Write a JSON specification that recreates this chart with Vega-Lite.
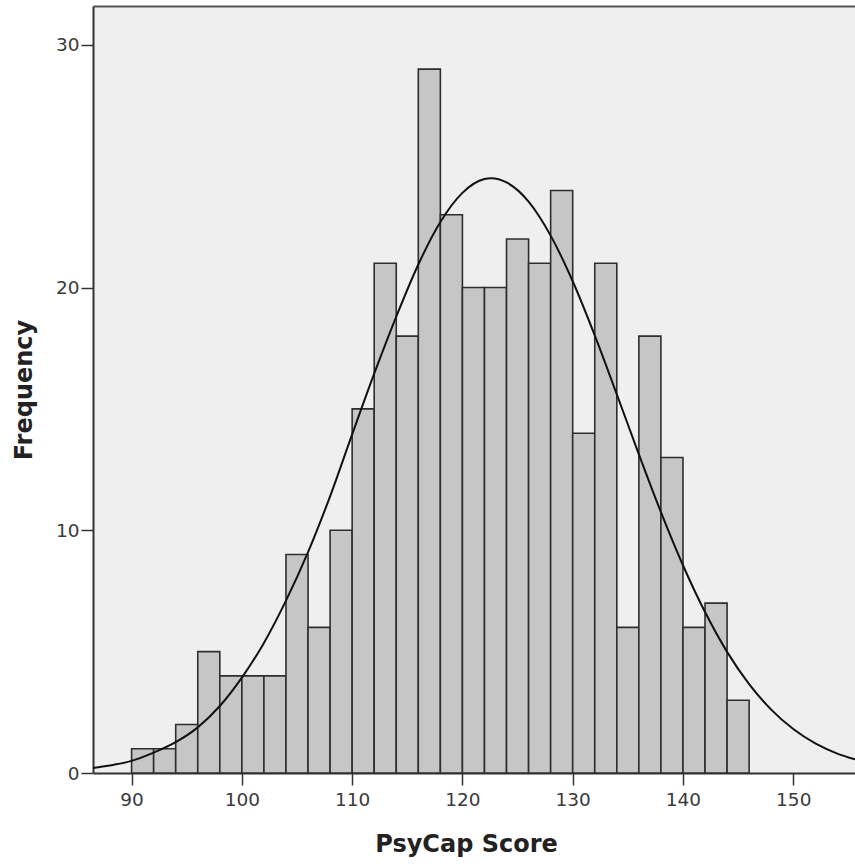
{
  "$schema": "https://vega.github.io/schema/vega-lite/v6.json",
  "autosize": "none",
  "padding": {"left": 93, "top": 6, "right": 0, "bottom": 91},
  "width": 762,
  "height": 767,
  "background": "white",
  "config": {
    "view": {"fill": "#efefef", "stroke": null},
    "font": "DejaVu Sans",
    "axis": {
      "grid": false,
      "domainColor": "#333333",
      "domainWidth": 2,
      "tickColor": "#333333",
      "tickWidth": 1.5,
      "tickSize": 12,
      "labelFont": "DejaVu Sans",
      "labelFontSize": 18.5,
      "labelColor": "#3a3a3a",
      "titleFont": "DejaVu Sans",
      "titleFontSize": 24,
      "titleFontWeight": "bold",
      "titleColor": "#222222"
    }
  },
  "datasets": {
    "bins": [
      {"start": 90, "end": 92, "count": 1},
      {"start": 92, "end": 94, "count": 1},
      {"start": 94, "end": 96, "count": 2},
      {"start": 96, "end": 98, "count": 5},
      {"start": 98, "end": 100, "count": 4},
      {"start": 100, "end": 102, "count": 4},
      {"start": 102, "end": 104, "count": 4},
      {"start": 104, "end": 106, "count": 9},
      {"start": 106, "end": 108, "count": 6},
      {"start": 108, "end": 110, "count": 10},
      {"start": 110, "end": 112, "count": 15},
      {"start": 112, "end": 114, "count": 21},
      {"start": 114, "end": 116, "count": 18},
      {"start": 116, "end": 118, "count": 29},
      {"start": 118, "end": 120, "count": 23},
      {"start": 120, "end": 122, "count": 20},
      {"start": 122, "end": 124, "count": 20},
      {"start": 124, "end": 126, "count": 22},
      {"start": 126, "end": 128, "count": 21},
      {"start": 128, "end": 130, "count": 24},
      {"start": 130, "end": 132, "count": 14},
      {"start": 132, "end": 134, "count": 21},
      {"start": 134, "end": 136, "count": 6},
      {"start": 136, "end": 138, "count": 18},
      {"start": 138, "end": 140, "count": 13},
      {"start": 140, "end": 142, "count": 6},
      {"start": 142, "end": 144, "count": 7},
      {"start": 144, "end": 146, "count": 3}
    ],
    "normal": [
      {"score": 86.5, "freq": 0.21},
      {"score": 88, "freq": 0.31},
      {"score": 90, "freq": 0.5},
      {"score": 92, "freq": 0.84},
      {"score": 94, "freq": 1.27},
      {"score": 96, "freq": 1.88},
      {"score": 98, "freq": 2.76},
      {"score": 100, "freq": 3.93},
      {"score": 102, "freq": 5.36},
      {"score": 104, "freq": 7.1},
      {"score": 106, "freq": 9.1},
      {"score": 108, "freq": 11.4},
      {"score": 110, "freq": 13.95},
      {"score": 112, "freq": 16.45},
      {"score": 114, "freq": 18.8},
      {"score": 116, "freq": 20.95},
      {"score": 118, "freq": 22.7},
      {"score": 120, "freq": 23.9},
      {"score": 122, "freq": 24.47},
      {"score": 122.6, "freq": 24.5},
      {"score": 124, "freq": 24.33},
      {"score": 126, "freq": 23.54},
      {"score": 128, "freq": 22.14},
      {"score": 130, "freq": 20.26},
      {"score": 132, "freq": 18.03},
      {"score": 134, "freq": 15.6},
      {"score": 136, "freq": 13.13},
      {"score": 138, "freq": 10.75},
      {"score": 140, "freq": 8.56},
      {"score": 142, "freq": 6.63},
      {"score": 144, "freq": 4.99},
      {"score": 146, "freq": 3.66},
      {"score": 148, "freq": 2.61},
      {"score": 150, "freq": 1.81},
      {"score": 152, "freq": 1.22},
      {"score": 154, "freq": 0.8},
      {"score": 155.6, "freq": 0.56}
    ]
  },
  "resolve": {"axis": {"x": "independent"}},
  "layer": [
    {
      "data": {"name": "bins"},
      "mark": {"type": "rect", "fill": "#c6c6c6", "stroke": "#2e2e2e", "strokeWidth": 1.6},
      "encoding": {
        "x": {
          "field": "start", "type": "quantitative",
          "scale": {"domain": [86.5, 155.6], "nice": false, "zero": false},
          "axis": {"orient": "bottom", "values": [90, 100, 110, 120, 130, 140, 150], "title": "PsyCap Score", "labelPadding": 5, "titlePadding": 24, "titleX": 373}
        },
        "x2": {"field": "end"},
        "y": {
          "field": "count", "type": "quantitative",
          "scale": {"domain": [0, 31.6], "nice": false},
          "axis": {"values": [0, 10, 20, 30], "title": "Frequency", "labelPadding": 2, "titlePadding": 19}
        },
        "y2": {"datum": 0}
      }
    },
    {
      "data": {"name": "normal"},
      "mark": {"type": "line", "color": "#111111", "strokeWidth": 2, "interpolate": "monotone", "clip": true},
      "encoding": {
        "x": {
          "field": "score", "type": "quantitative",
          "axis": {"orient": "top", "title": null, "labels": false, "ticks": false, "domainColor": "#555555", "domainWidth": 2}
        },
        "y": {"field": "freq", "type": "quantitative"}
      }
    }
  ]
}
